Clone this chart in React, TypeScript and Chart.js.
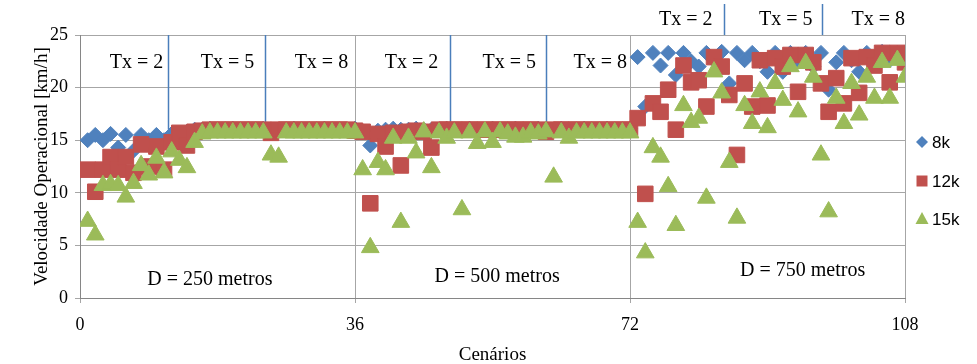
import React, { useEffect, useRef } from 'react';
import { Chart, registerables } from 'chart.js';

Chart.register(...registerables);

// Scenario numbers 1..108
const scenarios: number[] = Array.from({ length: 108 }, (_, i) => i + 1);

const serie8k: number[] = [
  15.0, 15.5, 15.0, 15.6, 14.3, 15.5, 14.0, 15.5, 15.0, 15.5, 15.0, 15.6, 15.2, 15.8, 16.0, 16.0, 16.1, 16.0,
  16.0, 16.1, 16.0, 16.0, 16.0, 16.1, 16.0, 16.0, 16.0, 16.1, 16.0, 16.0, 16.0, 16.1, 16.0, 16.0, 16.0, 16.1,
  15.8, 14.5, 15.9, 16.0, 16.1, 16.0, 16.0, 16.1, 16.0, 16.0, 16.0, 16.1, 16.0, 16.0, 16.1, 16.0, 16.0, 16.1,
  16.0, 16.0, 16.1, 16.0, 16.0, 16.1, 16.0, 16.0, 16.1, 16.0, 16.0, 16.1, 16.0, 16.0, 16.1, 16.0, 16.0, 16.1,
  22.9, 18.2, 23.3, 22.1, 23.3, 21.2, 23.3, 22.5, 22.0, 23.3, 22.6, 23.4, 20.4, 23.3, 22.6, 23.3, 22.5, 21.5,
  23.3, 21.5, 23.3, 22.5, 23.3, 22.0, 23.3, 19.8, 22.4, 23.3, 22.6, 21.5, 23.3, 22.5, 23.4, 22.6, 23.3, 22.6,
];

const serie12k: number[] = [
  12.2, 10.1, 12.2, 13.4, 12.2, 13.4, 11.9, 14.6, 12.5, 14.4, 12.2, 14.8, 15.7, 14.5, 15.8, 15.9, 16.0, 16.0,
  16.0, 16.0, 16.0, 16.0, 16.0, 16.0, 15.7, 16.0, 16.0, 16.0, 16.0, 16.0, 16.0, 16.0, 16.0, 16.0, 16.0, 15.9,
  15.8, 9.0, 15.6, 14.4, 15.7, 12.6, 15.8, 15.9, 15.8, 14.3, 16.0, 16.0, 16.0, 16.0, 16.0, 16.0, 16.0, 16.0,
  16.0, 16.0, 16.0, 16.0, 16.0, 16.0, 15.8, 16.0, 16.0, 16.0, 16.0, 16.0, 16.0, 16.0, 16.0, 16.0, 16.0, 16.0,
  17.1, 9.9, 18.5, 17.7, 19.8, 16.0, 22.1, 20.5, 20.7, 18.2, 22.9, 22.0, 19.3, 13.6, 20.4, 18.2, 22.6, 18.3,
  22.8, 22.0, 23.1, 19.6, 23.1, 22.4, 20.4, 17.7, 20.9, 18.5, 22.8, 19.5, 22.9, 22.1, 23.3, 20.5, 23.3, 22.4,
];

const serie15k: number[] = [
  7.3, 6.0, 10.7, 10.8, 10.7, 9.6, 10.9, 12.6, 11.7, 13.3, 11.9, 13.9, 13.1, 12.4, 14.8, 15.6, 15.7, 15.7,
  15.7, 15.7, 15.7, 15.7, 15.7, 15.7, 13.6, 13.4, 15.7, 15.7, 15.7, 15.7, 15.7, 15.7, 15.7, 15.7, 15.7, 15.7,
  12.2, 4.8, 12.9, 12.2, 15.2, 7.2, 15.2, 13.8, 15.8, 12.4, 15.7, 15.2, 15.7, 8.4, 15.7, 14.7, 15.8, 14.8,
  15.8, 15.6, 15.3, 15.3, 15.7, 15.6, 15.8, 11.5, 15.7, 15.2, 15.7, 15.7, 15.7, 15.7, 15.7, 15.7, 15.7, 15.7,
  7.2, 4.3, 14.3, 13.4, 10.6, 6.9, 18.3, 16.7, 17.1, 9.5, 21.5, 19.5, 12.9, 7.6, 18.3, 16.6, 19.6, 16.2,
  20.4, 18.8, 22.0, 17.7, 22.3, 21.0, 13.6, 8.2, 19.0, 16.6, 20.4, 17.4, 21.0, 19.0, 22.4, 19.0, 22.6, 21.0,
];

const seriesNames: string[] = ['8k', '12k', '15k'];
const xTicks: number[] = [0, 36, 72, 108];
const txLabels: string[] = ['Tx = 2', 'Tx = 5', 'Tx = 8'];
const txLinesInner: number[] = [11.5, 24.2, 48.4, 61.0];
const txLinesOuter: number[] = [84.3, 97.1];
const txLabelPosInner: number[] = [7.4, 19.3, 31.6, 43.4, 56.2, 68.1];
const txLabelPosOuter: number[] = [79.3, 92.4, 104.5];
const distLabels: string[] = ['D = 250 metros', 'D = 500 metros', 'D = 750 metros'];
const distLabelX: number[] = [17.0, 54.6, 94.6];
const distLabelY: number[] = [1.7, 2.0, 2.6];

const SERIF = '"Liberation Serif", "Times New Roman", serif';
const SANS = '"Liberation Sans", Arial, sans-serif';
const BLUE = '#4F81BD';
const RED = '#C0504D';
const GREEN = '#9BBB59';
const LINE_BLUE = '#4A7EBB';

const annotPlugin = {
  id: 'annot',
  beforeDatasetsDraw(chart: any) {
    const { ctx, chartArea, scales } = chart;
    const x = scales.x;
    const y = scales.y;
    ctx.save();
    ctx.strokeStyle = LINE_BLUE;
    ctx.lineWidth = 1.5;
    const yEnd = y.getPixelForValue(16);
    txLinesInner.forEach((v) => {
      const px = Math.round(x.getPixelForValue(v)) + 0.5;
      ctx.beginPath();
      ctx.moveTo(px, chartArea.top);
      ctx.lineTo(px, yEnd);
      ctx.stroke();
    });
    ctx.restore();
  },
  afterDraw(chart: any) {
    const { ctx, chartArea, scales } = chart;
    const x = scales.x;
    const y = scales.y;
    ctx.save();
    // outer Tx lines (above the plot area)
    ctx.strokeStyle = LINE_BLUE;
    ctx.lineWidth = 1.5;
    txLinesOuter.forEach((v) => {
      const px = Math.round(x.getPixelForValue(v)) + 0.5;
      ctx.beginPath();
      ctx.moveTo(px, 4);
      ctx.lineTo(px, chartArea.top);
      ctx.stroke();
    });

    ctx.fillStyle = '#000';
    ctx.textAlign = 'center';
    ctx.textBaseline = 'middle';
    ctx.font = `20px ${SERIF}`;
    txLabelPosInner.forEach((v, i) => {
      ctx.fillText(txLabels[i % 3], x.getPixelForValue(v), 63);
    });
    txLabelPosOuter.forEach((v, i) => {
      ctx.fillText(txLabels[i % 3], x.getPixelForValue(v), 20);
    });
    distLabels.forEach((t, i) => {
      ctx.fillText(t, x.getPixelForValue(distLabelX[i]), y.getPixelForValue(distLabelY[i]));
    });

    // axis titles
    ctx.font = `19px ${SERIF}`;
    ctx.fillText('Cenários', (chartArea.left + chartArea.right) / 2, 355);
    ctx.save();
    ctx.translate(42, (chartArea.top + chartArea.bottom) / 2);
    ctx.rotate(-Math.PI / 2);
    ctx.fillText('Velocidade Operacional [km/h]', 0, 0);
    ctx.restore();

    // legend
    const items = [
      { color: BLUE, shape: 'diamond', y: 142 },
      { color: RED, shape: 'square', y: 181 },
      { color: GREEN, shape: 'triangle', y: 219 },
    ];
    const mx = 922;
    items.forEach((it, i) => {
      ctx.fillStyle = it.color;
      ctx.beginPath();
      if (it.shape === 'diamond') {
        ctx.moveTo(mx, it.y - 6);
        ctx.lineTo(mx + 6, it.y);
        ctx.lineTo(mx, it.y + 6);
        ctx.lineTo(mx - 6, it.y);
      } else if (it.shape === 'square') {
        ctx.rect(mx - 5.5, it.y - 5.5, 11, 11);
      } else {
        ctx.moveTo(mx, it.y - 7);
        ctx.lineTo(mx + 6.5, it.y + 5);
        ctx.lineTo(mx - 6.5, it.y + 5);
      }
      ctx.closePath();
      ctx.fill();
      ctx.fillStyle = '#000';
      ctx.textAlign = 'left';
      ctx.font = `17px ${SANS}`;
      ctx.fillText(seriesNames[i], 932, it.y + 1);
    });
    ctx.restore();
  },
};

export default function App() {
  const canvasRef = useRef<HTMLCanvasElement | null>(null);

  useEffect(() => {
    document.body.style.margin = '0';
    const canvas = canvasRef.current;
    if (!canvas) return;
    const mk = (vals: number[]) => scenarios.map((s, i) => ({ x: s, y: vals[i] }));
    const chart = new Chart(canvas, {
      type: 'scatter',
      data: {
        datasets: [
          {
            label: seriesNames[0],
            data: mk(serie8k),
            backgroundColor: BLUE,
            borderColor: BLUE,
            borderWidth: 1,
            pointStyle: 'rectRot',
            pointRadius: 7.5,
            order: 3,
          },
          {
            label: seriesNames[1],
            data: mk(serie12k),
            backgroundColor: RED,
            borderColor: RED,
            borderWidth: 1,
            pointStyle: 'rect',
            pointRadius: 11,
            order: 2,
          },
          {
            label: seriesNames[2],
            data: mk(serie15k),
            backgroundColor: GREEN,
            borderColor: GREEN,
            borderWidth: 1,
            pointStyle: 'triangle',
            pointRadius: 10.2,
            order: 1,
          },
        ],
      },
      options: {
        responsive: false,
        animation: false,
        layout: { padding: { top: 35, right: 72, left: 0, bottom: 0 } },
        plugins: { legend: { display: false }, tooltip: { enabled: false } },
        scales: {
          x: {
            type: 'linear',
            min: 0,
            max: 108,
            afterFit: (s: any) => {
              s.height = 66;
            },
            afterBuildTicks: (s: any) => {
              s.ticks = xTicks.map((v) => ({ value: v }));
            },
            ticks: {
              font: { family: SERIF, size: 18 },
              color: '#000',
              padding: 11,
              maxRotation: 0,
              autoSkip: false,
            },
            grid: { color: '#A6A6A6', tickLength: 5, drawTicks: true },
            border: { color: '#868686' },
          },
          y: {
            min: 0,
            max: 25,
            afterFit: (s: any) => {
              s.width = 80;
            },
            ticks: {
              stepSize: 5,
              font: { family: SERIF, size: 18 },
              color: '#000',
              padding: 7,
            },
            grid: { color: '#A6A6A6', tickLength: 5, drawTicks: true },
            border: { color: '#868686' },
          },
        },
      },
      plugins: [annotPlugin],
    } as any);
    return () => chart.destroy();
  }, []);

  return (
    <div style={{ width: 977, height: 364 }}>
      <canvas ref={canvasRef} width={977} height={364} style={{ display: 'block' }} />
    </div>
  );
}
